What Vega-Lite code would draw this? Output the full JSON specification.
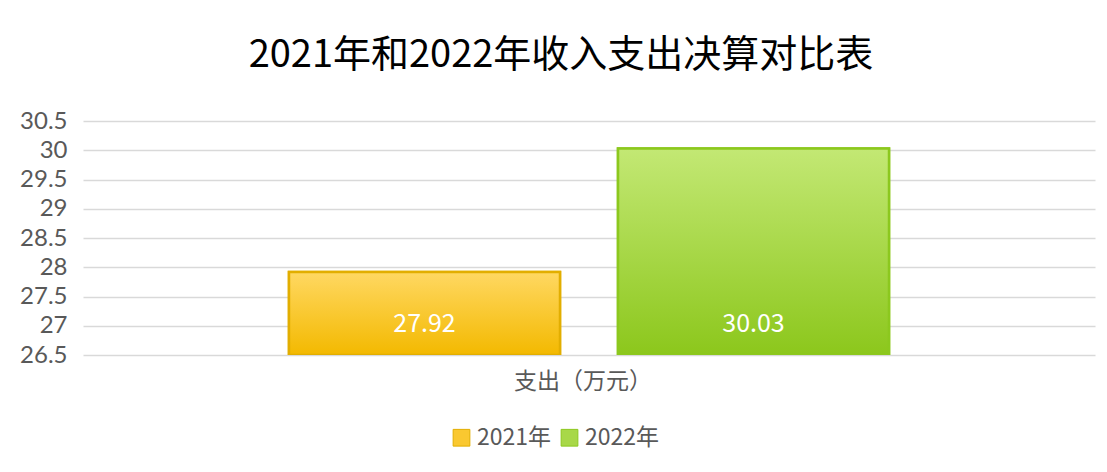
{
  "$schema": "https://vega.github.io/schema/vega-lite/v6.json",
  "width": 1012,
  "height": 234,
  "autosize": {"type": "none"},
  "padding": {"left": 83, "top": 121, "right": 12, "bottom": 117},
  "background": "white",
  "config": {"view": {"stroke": null}},
  "title": {
    "text": "2021年和2022年收入支出决算对比表",
    "fontSize": 38,
    "font": "Noto Sans CJK SC",
    "fontWeight": "normal",
    "color": "#000000",
    "anchor": "middle",
    "dx": -28,
    "offset": 34
  },
  "data": {
    "values": [
      {"cat": "支出（万元）", "year": "2021年", "value": 27.92},
      {"cat": "支出（万元）", "year": "2022年", "value": 30.03}
    ]
  },
  "encoding": {
    "x": {
      "field": "cat",
      "type": "nominal",
      "title": null,
      "scale": {"paddingOuter": 0.3433, "paddingInner": 0},
      "axis": {
        "labelAngle": 0,
        "labelFontSize": 23,
        "labelFont": "Noto Sans CJK SC",
        "labelColor": "#595959",
        "labelPadding": 15,
        "labelOffset": -6,
        "ticks": false,
        "domain": false,
        "grid": false
      }
    },
    "xOffset": {
      "field": "year",
      "type": "nominal",
      "scale": {"paddingInner": 0.1763, "paddingOuter": 0}
    },
    "y": {
      "field": "value",
      "type": "quantitative",
      "title": null,
      "scale": {"domain": [26.5, 30.5], "zero": false, "nice": false},
      "axis": {
        "values": [26.5, 27, 27.5, 28, 28.5, 29, 29.5, 30, 30.5],
        "labelExpr": "toString(datum.value)",
        "labelFontSize": 24,
        "labelFont": "Lato",
        "labelColor": "#595959",
        "labelPadding": 16,
        "ticks": false,
        "domain": false,
        "gridColor": "#D9D9D9",
        "gridWidth": 1.5
      }
    },
    "y2": {"datum": 26.5}
  },
  "layer": [
    {
      "mark": {"type": "bar", "strokeWidth": 2.5, "clip": true},
      "encoding": {
        "color": {
          "field": "year",
          "type": "nominal",
          "scale": {"domain": ["2021年", "2022年"], "range": ["#FAC830", "#A8D848"]},
          "legend": {
            "title": null,
            "orient": "none",
            "legendX": 367,
            "legendY": 305,
            "direction": "horizontal",
            "symbolType": "square",
            "symbolSize": 280,
            "symbolStrokeWidth": 1,
            "labelFontSize": 23,
            "labelFont": "Noto Sans CJK SC",
            "labelColor": "#595959",
            "labelOffset": 4,
            "columnPadding": 6,
            "encode": {
              "symbols": {
                "update": {
                  "fill": {"signal": "datum.value === '2021年' ? {gradient: 'linear', x1: 0, y1: 0, x2: 0, y2: 1, stops: [{offset: 0, color: '#FFD862'}, {offset: 1, color: '#F3B900'}]} : {gradient: 'linear', x1: 0, y1: 0, x2: 0, y2: 1, stops: [{offset: 0, color: '#C3E874'}, {offset: 1, color: '#8CC71C'}]}"},
                  "stroke": {"signal": "datum.value === '2021年' ? '#E2AE00' : '#8CC81E'"}
                }
              }
            }
          }
        },
        "stroke": {
          "field": "year",
          "type": "nominal",
          "scale": {"domain": ["2021年", "2022年"], "range": ["#E2AE00", "#8CC81E"]},
          "legend": null
        }
      }
    },
    {
      "transform": [{"filter": "datum.year === '2021年'"}],
      "mark": {
        "type": "bar",
        "strokeWidth": 2.5,
        "stroke": "#E2AE00",
        "clip": true,
        "fill": {"gradient": "linear", "x1": 0, "y1": 0, "x2": 0, "y2": 1, "stops": [{"offset": 0, "color": "#FFD862"}, {"offset": 1, "color": "#F3B900"}]}
      }
    },
    {
      "transform": [{"filter": "datum.year === '2022年'"}],
      "mark": {
        "type": "bar",
        "strokeWidth": 2.5,
        "stroke": "#8CC81E",
        "clip": true,
        "fill": {"gradient": "linear", "x1": 0, "y1": 0, "x2": 0, "y2": 1, "stops": [{"offset": 0, "color": "#C3E874"}, {"offset": 1, "color": "#8CC71C"}]}
      }
    },
    {
      "mark": {"type": "text", "color": "white", "fontSize": 25, "font": "Noto Sans CJK SC", "baseline": "middle", "dy": -2},
      "encoding": {
        "y": {"datum": 27, "type": "quantitative"},
        "y2": null,
        "text": {"field": "value", "type": "quantitative", "format": ".2f"}
      }
    }
  ]
}
